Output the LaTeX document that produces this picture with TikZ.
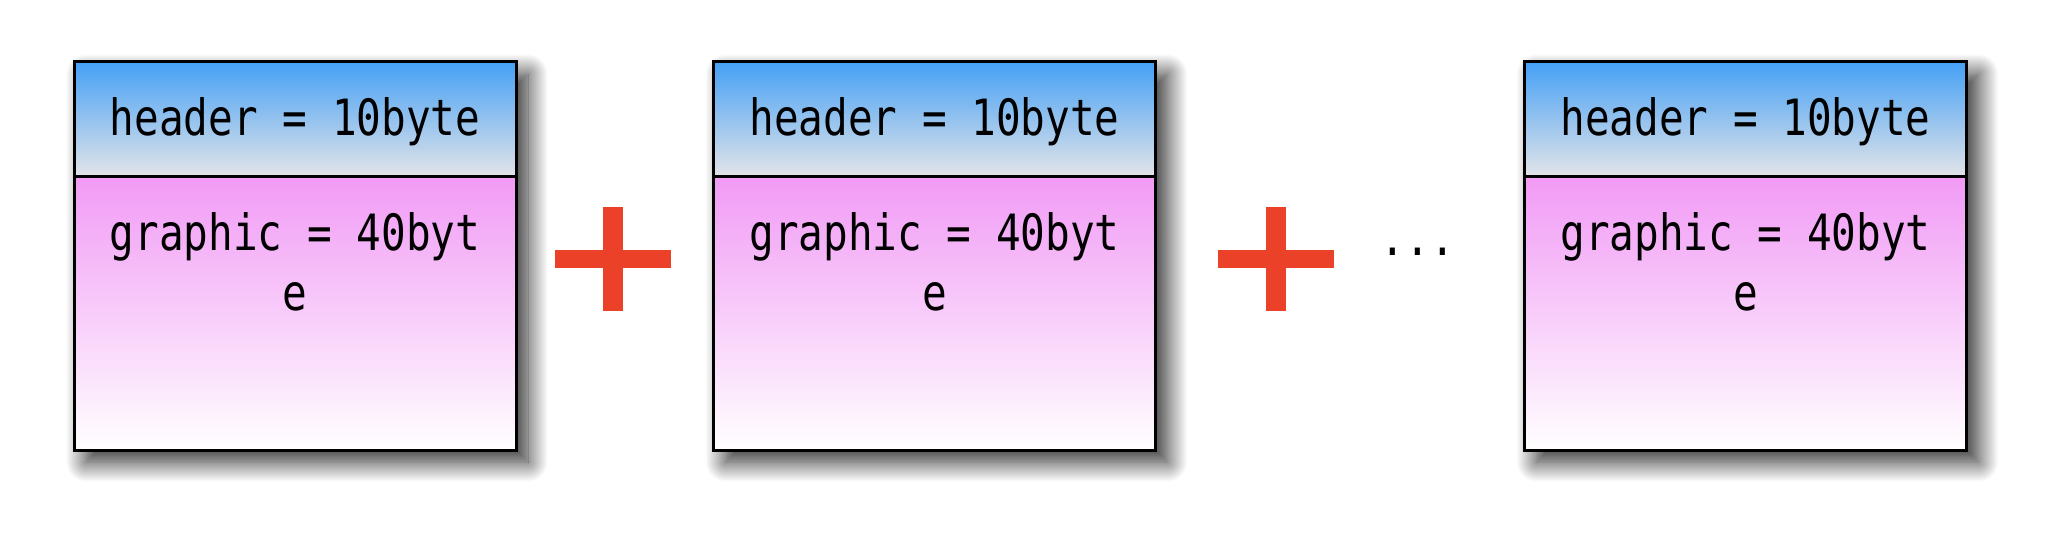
\documentclass[tikz,border=0pt]{standalone}
\usepackage{fontspec}
\newfontfamily\blockfont[FakeStretch=0.82]{DejaVu Sans Mono}
\usetikzlibrary{positioning, fit, shadows.blur}
\definecolor{hdrblue}{RGB}{69,160,245}
\definecolor{hdrgray}{RGB}{226,228,232}
\definecolor{gfxpink}{RGB}{241,154,245}
\definecolor{plusred}{RGB}{234,65,40}
\pgfdeclarelayer{background}
\pgfsetlayers{background,main}

\begin{document}
\begin{tikzpicture}[
		x=0.5pt, y=-0.5pt,
		every node/.style={font=\blockfont\fontsize{25}{30}\selectfont},
		hdr/.style={
				draw,
				line width=1.5pt,
				outer sep=0pt,
				minimum width=221pt,
				minimum height=57pt,
				top color=hdrblue,
				bottom color=hdrgray,
				text depth=2pt % pushes the text a bit down
			},
		gfx/.style={
				draw,
				line width=1.5pt,
				outer sep=0pt,
				minimum width=221pt,
				minimum height=137pt,
				top color=gfxpink,
				bottom color=white
			},
		shade box/.style={
				inner sep=0pt,
				blur shadow={shadow xshift=6pt, shadow yshift=-6pt, shadow blur radius=10pt, shadow blur steps=30, shadow opacity=85}
			}
	]
	\useasboundingbox (0,0) rectangle (2072,556);

	% the three packets
	\foreach \i/\x in {1/295, 2/934.5, 3/1745.5} {
		\node[hdr] (hdr\i) at (\x,119) {header = 10byte};
		\node[
			gfx,
			below=0pt of hdr\i,
			label={[anchor=north, inner sep=0pt, yshift=-18pt, align=center]north:{graphic = 40byt\\e}}
		] (body\i) {};

		\begin{pgfonlayer}{background}
			\node[shade box, fit=(hdr\i) (body\i)] (frame\i) {};
		\end{pgfonlayer}
	}

	% plus signs
	\coordinate (plus1) at (613,259);
	\coordinate (plus2) at (1276,259);
	\foreach \p in {plus1, plus2} {
		\fill[plusred] ([xshift=-29pt, yshift=-4.5pt]\p) rectangle ([xshift=29pt, yshift=4.5pt]\p);
		\fill[plusred] ([xshift=-5pt, yshift=-26pt]\p) rectangle ([xshift=5pt, yshift=26pt]\p);
	}

	\node[anchor=base, inner sep=0pt] (dots) at (1418,255) {...};
\end{tikzpicture}
\end{document}
